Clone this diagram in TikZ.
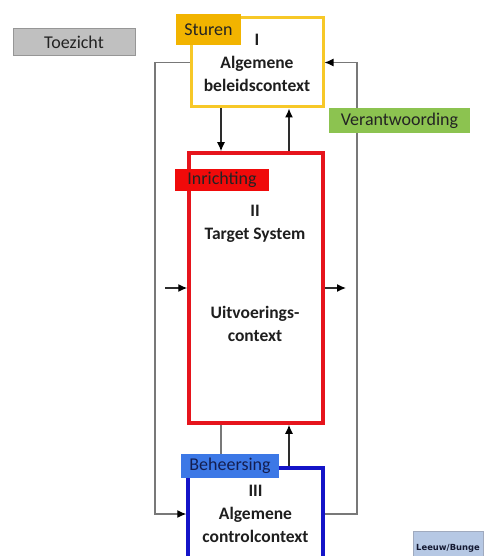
\documentclass[tikz,border=0pt]{standalone}
\usepackage{fontspec}
\setmainfont{Carlito}
\newfontfamily\bronfont{DejaVu Sans}
\usetikzlibrary{arrows.meta}

\begin{document}
\begin{tikzpicture}[x=1pt,y=1pt,yscale=-1,xscale=1,
  boxtext/.style={align=center, font=\fontsize{17.5}{23}\selectfont\bfseries, text={rgb,255:red,30;green,30;blue,30}},
  tag/.style={inner sep=0pt, font=\fontsize{18}{20}\selectfont, text={rgb,255:red,35;green,35;blue,35}},
  loopline/.style={color={rgb,255:red,120;green,120;blue,120}, line width=1.2pt},
  flow/.style={-{Latex[length=9pt,width=8pt,color=black]}, color={rgb,255:red,45;green,45;blue,45}, line width=1.3pt}]
\useasboundingbox (0,0) rectangle (485,556);
\clip (0,0) rectangle (485,556);

% Boxes
\node (beleid) [boxtext, draw={rgb,255:red,247;green,200;blue,40}, line width=3pt, minimum width=132, minimum height=89] at (257,62.5) {I\\Algemene\\beleidscontext};
\node (target) [draw={rgb,255:red,230;green,20;blue,28}, line width=3.5pt, minimum width=134, minimum height=270] at (256,288) {};
\node (control) [boxtext, draw={rgb,255:red,20;green,20;blue,200}, line width=3.5pt, minimum width=135, minimum height=92] at (255.5,514) {III\\Algemene\\controlcontext};

% Text Node
\node (targettxt) [boxtext] at (255,224) {II\\Target System};
% Text Node
\node (uitvtxt) [boxtext] at (255,323.5) {Uitvoerings-\\context};

% Connectors
\coordinate (lx) at (155,0);
\coordinate (rx) at (357,0);
\coordinate (ax) at (221,0);
\coordinate (bx) at (289,0);
\coordinate (inl) at (165,288);
\coordinate (uitr) at (346,288);
\draw [loopline, -{Latex[length=9pt,width=8pt,color=black]}] (beleid.west) -- (beleid.west -| lx) -- (control.west -| lx) -- (control.west);
\draw [loopline, -{Latex[length=9pt,width=8pt,color=black]}] (control.east) -- (control.east -| rx) -- (beleid.east -| rx) -- (beleid.east);
\draw [flow] (beleid.south -| ax) -- (target.north -| ax);
\draw [flow] (target.north -| bx) -- (beleid.south -| bx);
\draw [flow] (control.north -| bx) -- (target.south -| bx);
\draw [flow] (inl) -- (target.west);
\draw [flow] (target.east) -- (uitr);

% Labels
\node (sturen) [tag, fill={rgb,255:red,242;green,180;blue,0}, minimum width=65, minimum height=31] at (208.5,29.5) {Sturen};
\node (inrichting) [tag, fill={rgb,255:red,240;green,10;blue,10}, minimum width=94, minimum height=22] at (222,180) {Inrichting};
\node (beheersing) [tag, fill={rgb,255:red,60;green,120;blue,230}, text={rgb,255:red,20;green,30;blue,80}, minimum width=98, minimum height=24] at (230,466) {Beheersing};
\node (verantw) [tag, fill={rgb,255:red,140;green,195;blue,80}, minimum width=141, minimum height=25] at (399.5,120.5) {Verantwoording};
\node (toezicht) [tag, draw={rgb,255:red,150;green,150;blue,150}, fill={rgb,255:red,192;green,192;blue,192}, line width=1pt, minimum width=122, minimum height=27] at (74,42.5) {Toezicht};
\node (bron) [anchor=west, inner sep=3pt, draw={rgb,255:red,160;green,170;blue,190}, fill={rgb,255:red,182;green,200;blue,228}, minimum height=34, text={rgb,255:red,20;green,25;blue,50}, font=\bronfont\fontsize{8.4}{10}\selectfont\bfseries] at (413,548) {Leeuw/Bunge};

\draw [loopline] (target.south -| ax) -- (beheersing.north -| ax);

\end{tikzpicture}
\end{document}
